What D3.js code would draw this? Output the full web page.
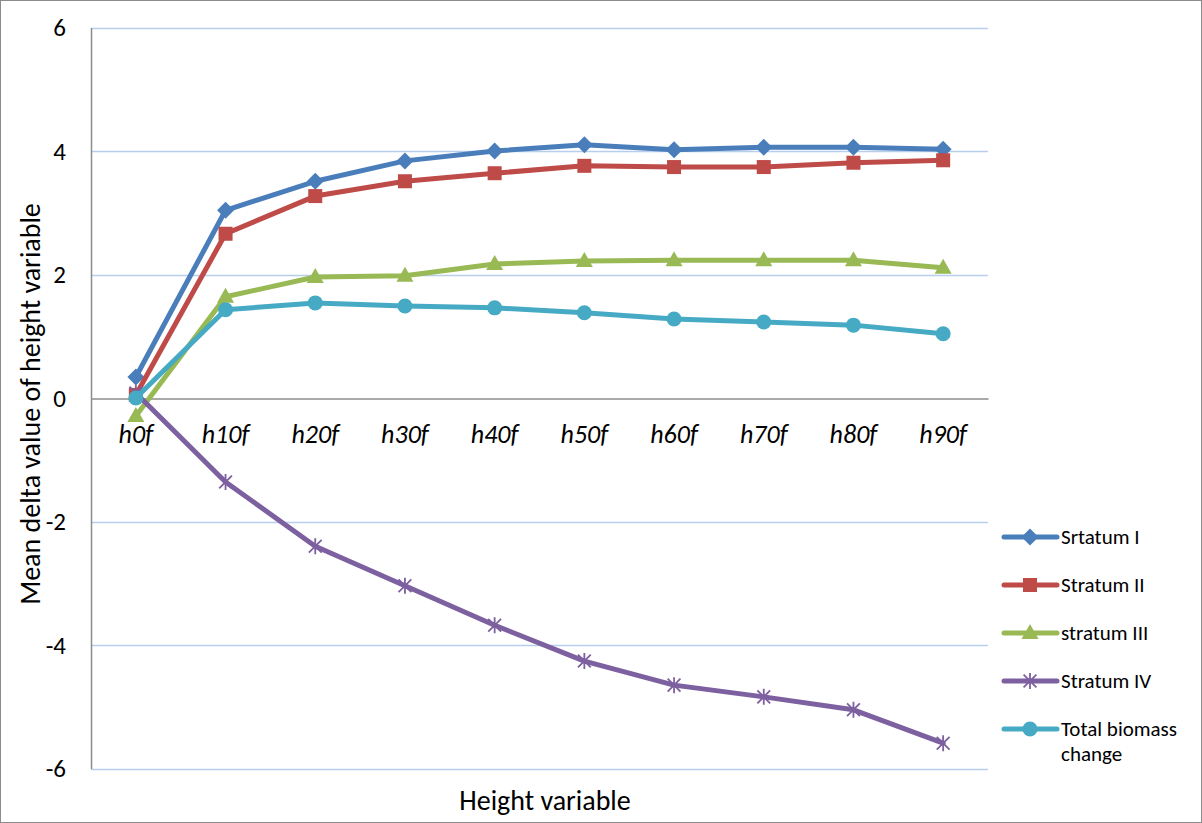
<!DOCTYPE html>
<html><head><meta charset="utf-8">
<script src="https://cdn.jsdelivr.net/npm/d3@7"></script>
<style>body{margin:0;background:#fff}svg{display:block}</style>
</head><body>
<svg id="c" width="1202" height="823"></svg>
<script>
const categories = ["h0f","h10f","h20f","h30f","h40f","h50f","h60f","h70f","h80f","h90f"];
const seriesNames = ["Srtatum I","Stratum II","stratum III","Stratum IV","Total biomass change"];
const stratum1 = [0.34,3.04,3.51,3.84,4.00,4.10,4.02,4.06,4.06,4.03];
const stratum2 = [0.05,2.66,3.27,3.51,3.64,3.76,3.74,3.74,3.81,3.85];
const stratum3 = [-0.29,1.64,1.96,1.98,2.17,2.22,2.23,2.23,2.23,2.11];
const stratum4 = [0.08,-1.36,-2.40,-3.04,-3.68,-4.26,-4.65,-4.84,-5.05,-5.59];
const totalBiomass = [0.0,1.43,1.54,1.49,1.46,1.38,1.28,1.23,1.18,1.04];
const yTicks = [-6,-4,-2,0,2,4,6];
const colors = ["#4a7ebb","#be4b48","#98b954","#7d60a0","#46aac5"];
const markers = ["diamond","square","triangle","asterisk","circle"];
const seriesValues = [stratum1,stratum2,stratum3,stratum4,totalBiomass];

const svg = d3.select("#c");
const font = "Carlito, 'Liberation Sans', 'Noto Sans', sans-serif";
svg.append("rect").attr("x",0.5).attr("y",0.5).attr("width",1201).attr("height",822)
  .attr("fill","#fff").attr("stroke","#8c8c8c");

const L=91, R=988, T=27.5, B=768.5;
const x = d3.scaleBand().domain(categories).range([L,R]);
const y = d3.scaleLinear().domain([-6,6]).range([B,T]);

// gridlines
svg.append("g").selectAll("line").data(yTicks.filter(d=>d!==0)).join("line")
  .attr("x1",L).attr("x2",R).attr("y1",d=>Math.round(y(d))+0.5).attr("y2",d=>Math.round(y(d))+0.5)
  .attr("stroke","#b9cdec").attr("stroke-width",1.5);

// y axis
const yAxis = svg.append("g").attr("transform",`translate(${L},0)`)
  .call(d3.axisLeft(y).tickValues(yTicks).tickSize(0).tickPadding(25).tickFormat(d=>String(d)));
yAxis.select(".domain").attr("stroke","#8c8c8c").attr("stroke-width",1.5);
yAxis.selectAll("text").attr("font-family",font).attr("font-size",25).attr("fill","#000");

// x axis at zero
const xAxis = svg.append("g").attr("transform",`translate(0,${Math.round(y(0))+0.5})`)
  .call(d3.axisBottom(x).tickSize(0));
xAxis.select(".domain").attr("stroke","#8c8c8c").attr("stroke-width",1.5);
xAxis.selectAll("text").attr("y",44).attr("dy",null).attr("font-family",font).attr("font-size",26)
  .attr("font-style","italic").attr("fill","#000");

// axis titles
svg.append("text").attr("x",545).attr("y",810).attr("text-anchor","middle")
  .attr("font-family",font).attr("font-size",28).text("Height variable");
svg.append("text").attr("transform",`translate(40,404) rotate(-90)`).attr("text-anchor","middle")
  .attr("font-family",font).attr("font-size",28).text("Mean delta value of height variable");

function drawMarker(g, type, color, cx, cy){
  if(type==="diamond"){
    g.append("path").attr("d",`M${cx},${cy-8.5}L${cx+8.5},${cy}L${cx},${cy+8.5}L${cx-8.5},${cy}Z`).attr("fill",color);
  } else if(type==="square"){
    g.append("rect").attr("x",cx-7).attr("y",cy-7).attr("width",14).attr("height",14).attr("fill",color);
  } else if(type==="triangle"){
    g.append("path").attr("d",`M${cx},${cy-9}L${cx+8.5},${cy+6}L${cx-8.5},${cy+6}Z`).attr("fill",color);
  } else if(type==="circle"){
    g.append("circle").attr("cx",cx).attr("cy",cy).attr("r",7.5).attr("fill",color);
  } else if(type==="asterisk"){
    const r=8;
    const p=`M${cx-r*0.8},${cy-r*0.8}L${cx+r*0.8},${cy+r*0.8}M${cx+r*0.8},${cy-r*0.8}L${cx-r*0.8},${cy+r*0.8}M${cx},${cy-r}L${cx},${cy+r}`;
    g.append("path").attr("d",p).attr("stroke",color).attr("stroke-width",1.8).attr("fill","none");
  }
}

const line = d3.line().x((d,i)=>x(categories[i])+x.bandwidth()/2).y(d=>y(d));
seriesValues.forEach((vals,si)=>{
  const g = svg.append("g");
  g.append("path").datum(vals).attr("d",line).attr("fill","none")
    .attr("stroke",colors[si]).attr("stroke-width",5).attr("stroke-linejoin","round").attr("stroke-linecap","round");
  vals.forEach((v,i)=>drawMarker(g,markers[si],colors[si],x(categories[i])+x.bandwidth()/2,y(v)));
});

// legend
const legY = [537,585,633,681,729];
seriesNames.forEach((name,i)=>{
  const g = svg.append("g");
  g.append("line").attr("x1",1004).attr("x2",1057).attr("y1",legY[i]).attr("y2",legY[i])
    .attr("stroke",colors[i]).attr("stroke-width",5).attr("stroke-linecap","round");
  drawMarker(g,markers[i],colors[i],1030,legY[i]);
  const t = g.append("text").attr("x",1061).attr("y",legY[i]+7)
    .attr("font-family",font).attr("font-size",21).attr("fill","#000");
  if(name==="Total biomass change"){
    t.append("tspan").attr("x",1061).text("Total biomass");
    t.append("tspan").attr("x",1061).attr("dy",25).text("change");
  } else t.text(name);
});
</script>
</body></html>
